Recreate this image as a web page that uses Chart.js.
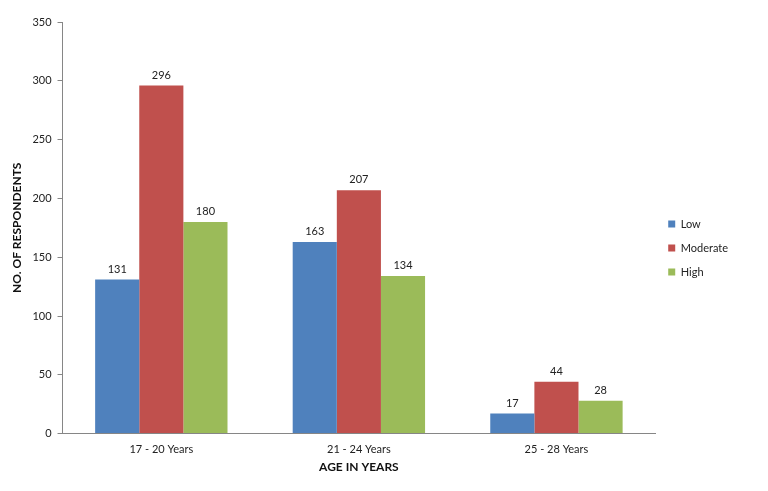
<!DOCTYPE html>
<html lang="en">
<head>
    <meta charset="UTF-8">
    <title>Respondents by Age</title>
    <script src="https://cdn.jsdelivr.net/npm/chart.js"></script>
    <style>
        html, body { margin: 0; padding: 0; background: white; }
        #wrap { width: 768px; height: 491px; }
    </style>
</head>
<body>
<div id="wrap"><canvas id="ageChart"></canvas></div>
<script>
const categories = ["17 - 20 Years", "21 - 24 Years", "25 - 28 Years"];
const lowValues = [131, 163, 17];
const moderateValues = [296, 207, 44];
const highValues = [180, 134, 28];
const yTicks = [0, 50, 100, 150, 200, 250, 300, 350];

const FONT = "Lato, 'Open Sans', sans-serif";

// value labels above each bar
const valueLabels = {
    id: 'valueLabels',
    afterDatasetsDraw(chart) {
        const ctx = chart.ctx;
        ctx.save();
        ctx.font = "11px " + FONT;
        ctx.fillStyle = "#222";
        ctx.textAlign = "center";
        ctx.textBaseline = "bottom";
        chart.data.datasets.forEach((ds, i) => {
            chart.getDatasetMeta(i).data.forEach((bar, j) => {
                ctx.fillText(ds.data[j], bar.x, bar.y - 5);
            });
        });
        ctx.restore();
    }
};

new Chart(document.getElementById('ageChart'), {
    type: 'bar',
    data: {
        labels: categories,
        datasets: [
            { label: "Low", data: lowValues, backgroundColor: "#4F81BD" },
            { label: "Moderate", data: moderateValues, backgroundColor: "#C0504D" },
            { label: "High", data: highValues, backgroundColor: "#9BBB59" }
        ]
    },
    options: {
        responsive: true,
        maintainAspectRatio: false,
        animation: false,
        layout: { padding: { top: 22, right: 30, bottom: 17, left: 6 } },
        datasets: { bar: { categoryPercentage: 0.67, barPercentage: 1.0 } },
        plugins: {
            legend: {
                position: 'right',
                labels: {
                    boxWidth: 7, boxHeight: 7, padding: 13,
                    color: "#222",
                    font: { family: FONT, size: 11 }
                }
            },
            tooltip: { enabled: false }
        },
        scales: {
            x: {
                grid: { display: false },
                border: { color: "#868686" },
                ticks: { color: "#222", font: { family: FONT, size: 11 }, padding: 1 },
                title: {
                    display: true, text: "AGE IN YEARS", color: "#111",
                    font: { family: FONT, size: 12, weight: 'bold', lineHeight: 1.1 },
                    padding: { top: 4, bottom: 0 }
                }
            },
            y: {
                min: 0, max: 350,
                afterBuildTicks(axis) { axis.ticks = yTicks.map(v => ({ value: v })); },
                grid: { drawOnChartArea: false, tickLength: 5, color: "#868686" },
                border: { color: "#868686" },
                ticks: { color: "#222", font: { family: FONT, size: 11 }, padding: 6 },
                title: {
                    display: true, text: "NO. OF RESPONDENTS", color: "#111",
                    font: { family: FONT, size: 12, weight: 'bold' }, padding: { bottom: 2 }
                }
            }
        }
    },
    plugins: [valueLabels]
});
</script>
</body>
</html>
